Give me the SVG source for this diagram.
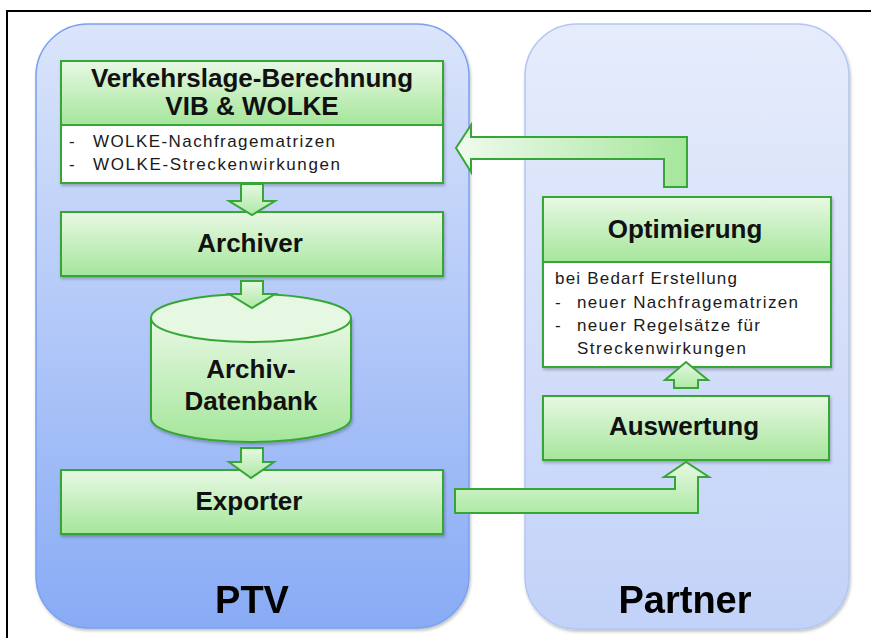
<svg xmlns="http://www.w3.org/2000/svg" width="871" height="638" viewBox="0 0 871 638">
<defs>
<linearGradient id="gPTV" x1="0" y1="0" x2="0" y2="1"><stop offset="0" stop-color="#dbe5fb"/><stop offset="1" stop-color="#88abf5"/></linearGradient>
<linearGradient id="gPar" x1="0" y1="0" x2="0" y2="1"><stop offset="0" stop-color="#e6ecfb"/><stop offset="1" stop-color="#c2d2f8"/></linearGradient>
<linearGradient id="gHead" x1="0" y1="0" x2="0" y2="1"><stop offset="0" stop-color="#e8f8e4"/><stop offset="1" stop-color="#a5e69b"/></linearGradient>
<linearGradient id="gArrV" x1="0" y1="0" x2="0" y2="1"><stop offset="0" stop-color="#e6f8e2"/><stop offset="1" stop-color="#aee9a5"/></linearGradient>
<linearGradient id="gArrH" x1="0" y1="0" x2="1" y2="0"><stop offset="0" stop-color="#f0fbee"/><stop offset="1" stop-color="#a5e69b"/></linearGradient>
<filter id="sh" x="-10%" y="-10%" width="120%" height="130%"><feDropShadow dx="1" dy="2" stdDeviation="1.5" flood-color="#000" flood-opacity="0.25"/></filter>
</defs>
<style>
.frame{fill:#fff;stroke:#000;stroke-width:2}
.cont{filter:url(#sh)}
.box{stroke:#36a636;stroke-width:2;filter:url(#sh)}
.hdr{fill:url(#gHead)}
.body{fill:#fff}
.div{stroke:#36a636;stroke-width:2}
.arr{stroke:#36a636;stroke-width:2;stroke-linejoin:miter}
.t{font-family:"Liberation Sans",Arial,sans-serif;font-weight:bold;font-size:26px;fill:#111;text-anchor:middle}
.big{font-family:"Liberation Sans",Arial,sans-serif;font-weight:bold;font-size:38px;fill:#000;text-anchor:middle}
.s{font-family:"Liberation Sans",Arial,sans-serif;font-size:17px;fill:#1a1a1a}
</style>
<rect class="frame" x="7" y="11" width="900" height="700"/>
<g id="ptv" class="cont">
<rect x="36" y="24" width="433" height="604" rx="52" fill="url(#gPTV)" stroke="#7aa0f0" stroke-width="1.5"/>
<text class="big" x="252" y="613">PTV</text>
</g>
<g id="partner" class="cont">
<rect x="525" y="24" width="324" height="605" rx="52" fill="url(#gPar)" stroke="#b2c6f5" stroke-width="1.5"/>
<text class="big" x="685" y="613">Partner</text>
</g>
<g id="verkehrslage">
<rect class="box body" x="61" y="61" width="382" height="122"/>
<rect class="hdr" x="61" y="61" width="382" height="64"/>
<rect x="61" y="61" width="382" height="122" fill="none" stroke="#36a636" stroke-width="2"/>
<line class="div" x1="61" y1="125" x2="443" y2="125"/>
<text class="t" x="252" y="87">Verkehrslage-Berechnung</text>
<text class="t" x="252" y="115">VIB &amp; WOLKE</text>
<text class="s" x="69" y="147">-</text>
<text class="s" x="93" y="147" textLength="242" lengthAdjust="spacing">WOLKE-Nachfragematrizen</text>
<text class="s" x="69" y="170">-</text>
<text class="s" x="93" y="170" textLength="247" lengthAdjust="spacing">WOLKE-Streckenwirkungen</text>
</g>
<g id="archiver">
<rect class="box hdr" x="61" y="212" width="382" height="64"/>
<text class="t" x="250" y="252">Archiver</text>
</g>
<g id="archiv-datenbank">
<path d="M151,318 L151,418 A100,24 0 0 0 351,418 L351,318 Z" fill="url(#gHead)" stroke="#36a636" stroke-width="2" filter="url(#sh)"/>
<ellipse cx="251" cy="318" rx="100" ry="24" fill="#e6f7e2" stroke="#36a636" stroke-width="2"/>
<text class="t" x="251" y="378">Archiv-</text>
<text class="t" x="251" y="410">Datenbank</text>
</g>
<g id="exporter">
<rect class="box hdr" x="61" y="470" width="382" height="64"/>
<text class="t" x="249" y="510">Exporter</text>
</g>
<g id="optimierung">
<rect class="box body" x="543" y="197" width="288" height="170"/>
<rect class="hdr" x="543" y="197" width="288" height="65"/>
<rect x="543" y="197" width="288" height="170" fill="none" stroke="#36a636" stroke-width="2"/>
<line class="div" x1="543" y1="262" x2="831" y2="262"/>
<text class="t" x="685" y="238">Optimierung</text>
<text class="s" x="555" y="284" textLength="182" lengthAdjust="spacing">bei Bedarf Erstellung</text>
<text class="s" x="555" y="308">-</text>
<text class="s" x="577" y="308" textLength="221" lengthAdjust="spacing">neuer Nachfragematrizen</text>
<text class="s" x="555" y="331">-</text>
<text class="s" x="577" y="331" textLength="183" lengthAdjust="spacing">neuer Regelsätze für</text>
<text class="s" x="577" y="354" textLength="169" lengthAdjust="spacing">Streckenwirkungen</text>
</g>
<g id="auswertung">
<rect class="box hdr" x="543" y="396" width="286" height="64"/>
<text class="t" x="684" y="435">Auswertung</text>
</g>
<g id="connectors">
<polygon class="arr" fill="url(#gArrV)" points="241,184 263,184 263,201 275,201 252,215 229,201 241,201"/>
<polygon class="arr" fill="url(#gArrV)" points="241,281 263,281 263,294 275,294 252,308 229,294 241,294"/>
<polygon class="arr" fill="url(#gArrV)" points="241,448 263,448 263,462 274,462 251,478 229,462 241,462"/>
<polygon class="arr" fill="url(#gArrV)" points="674,388 698,388 698,380 708,380 686,362 665,380 674,380"/>
<polygon class="arr" fill="url(#gArrV)" points="455,489 675,489 675,477 664,477 686,462 709,477 698,477 698,513 455,513"/>
<polygon class="arr" fill="url(#gArrH)" points="687,187 687,137 471,137 471,125 456,148 471,172 471,159 664,159 664,187"/>
</g>
</svg>
